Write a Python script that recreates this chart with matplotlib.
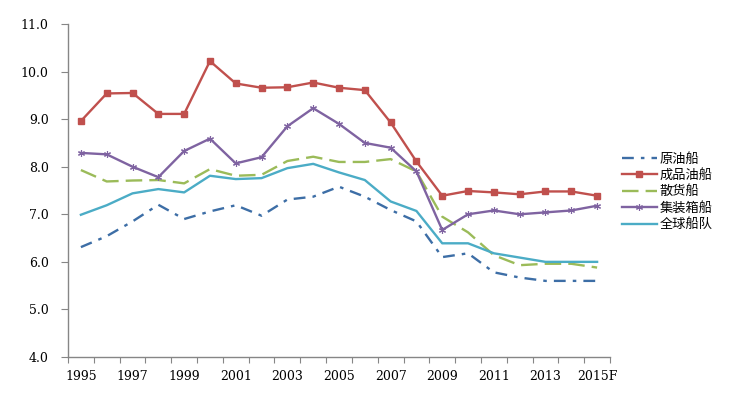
import matplotlib
matplotlib.use("Agg")
import matplotlib.pyplot as plt
import numpy as np

years = ["1995", "1996", "1997", "1998", "1999", "2000", "2001", "2002", "2003", "2004",
         "2005", "2006", "2007", "2008", "2009", "2010", "2011", "2012", "2013", "2014", "2015F"]
crude = [6.31, 6.54, 6.85, 7.20, 6.90, 7.06, 7.19, 6.97, 7.31, 7.37,
         7.58, 7.37, 7.09, 6.85, 6.10, 6.18, 5.78, 5.67, 5.60, 5.60, 5.60]
product = [8.96, 9.54, 9.55, 9.11, 9.11, 10.22, 9.75, 9.66, 9.67, 9.77,
           9.66, 9.61, 8.93, 8.11, 7.39, 7.49, 7.46, 7.42, 7.48, 7.48, 7.39]
bulk = [7.93, 7.69, 7.71, 7.72, 7.65, 7.95, 7.81, 7.83, 8.12, 8.21,
        8.10, 8.10, 8.16, 7.90, 6.95, 6.62, 6.14, 5.93, 5.96, 5.96, 5.88]
container = [8.29, 8.26, 8.00, 7.78, 8.33, 8.59, 8.07, 8.20, 8.85, 9.23,
             8.90, 8.50, 8.40, 7.90, 6.67, 7.00, 7.08, 7.00, 7.04, 7.08, 7.18]
fleet = [6.99, 7.19, 7.44, 7.53, 7.46, 7.81, 7.74, 7.76, 7.97, 8.06,
         7.88, 7.72, 7.27, 7.07, 6.39, 6.39, 6.18, 6.09, 6.00, 6.00, 6.00]
series_names = ["原油船", "成品油船", "散货船", "集装箱船", "全球船队"]
yticks = [4.0, 5.0, 6.0, 7.0, 8.0, 9.0, 10.0, 11.0]

plt.rcParams['font.family'] = ['Noto Sans CJK SC', 'DejaVu Sans']

fig = plt.figure(figsize=(7.39, 3.99), dpi=100)
ax = fig.add_axes([68/739, (399-357)/399, (610-68)/739, (357-24)/399])

x = np.arange(len(years))
lw = 1.7
ax.plot(x, crude, color='#3d6ea6', lw=lw, dashes=(5, 3, 1.5, 3), label=series_names[0])
ax.plot(x, product, color='#c0504d', lw=lw, marker='s', ms=4.5, label=series_names[1])
ax.plot(x, bulk, color='#9bbb59', lw=lw, dashes=(7, 3), label=series_names[2])
ax.plot(x, container, color='#7f63a1', lw=lw, marker=(6, 2, 0), ms=5, mew=0.8, label=series_names[3])
ax.plot(x, fleet, color='#4bacc6', lw=lw, label=series_names[4])

tick_font = ['DejaVu Serif']
ax.set_xlim(-0.5, len(years) - 0.5)
ax.set_ylim(4.0, 11.0)
ax.set_yticks(yticks)
ax.set_yticklabels([f"{v:.1f}" for v in yticks], family=tick_font, fontsize=9)

ax.set_xticks(np.arange(-0.5, len(years), 1.0))
ax.set_xticklabels([])
ax.set_xticks(x[::2], minor=True)
ax.set_xticklabels([years[i] for i in x[::2]], minor=True, family=tick_font, fontsize=9)
ax.tick_params(axis='x', which='major', length=4, color='#868686', direction='out')
ax.tick_params(axis='x', which='minor', length=0, pad=9)
ax.tick_params(axis='y', length=5, color='#868686', direction='out', pad=9)

for s in ['top', 'right']:
    ax.spines[s].set_visible(False)
for s in ['left', 'bottom']:
    ax.spines[s].set_color('#868686')
    ax.spines[s].set_linewidth(1.0)

leg = ax.legend(loc='center left', bbox_to_anchor=(617/739, 0.519), bbox_transform=fig.transFigure,
                frameon=False, fontsize=9.5, handlelength=2.6, handletextpad=0.2,
                labelspacing=0.26, borderaxespad=0)

fig.savefig("out.png", dpi=100)
